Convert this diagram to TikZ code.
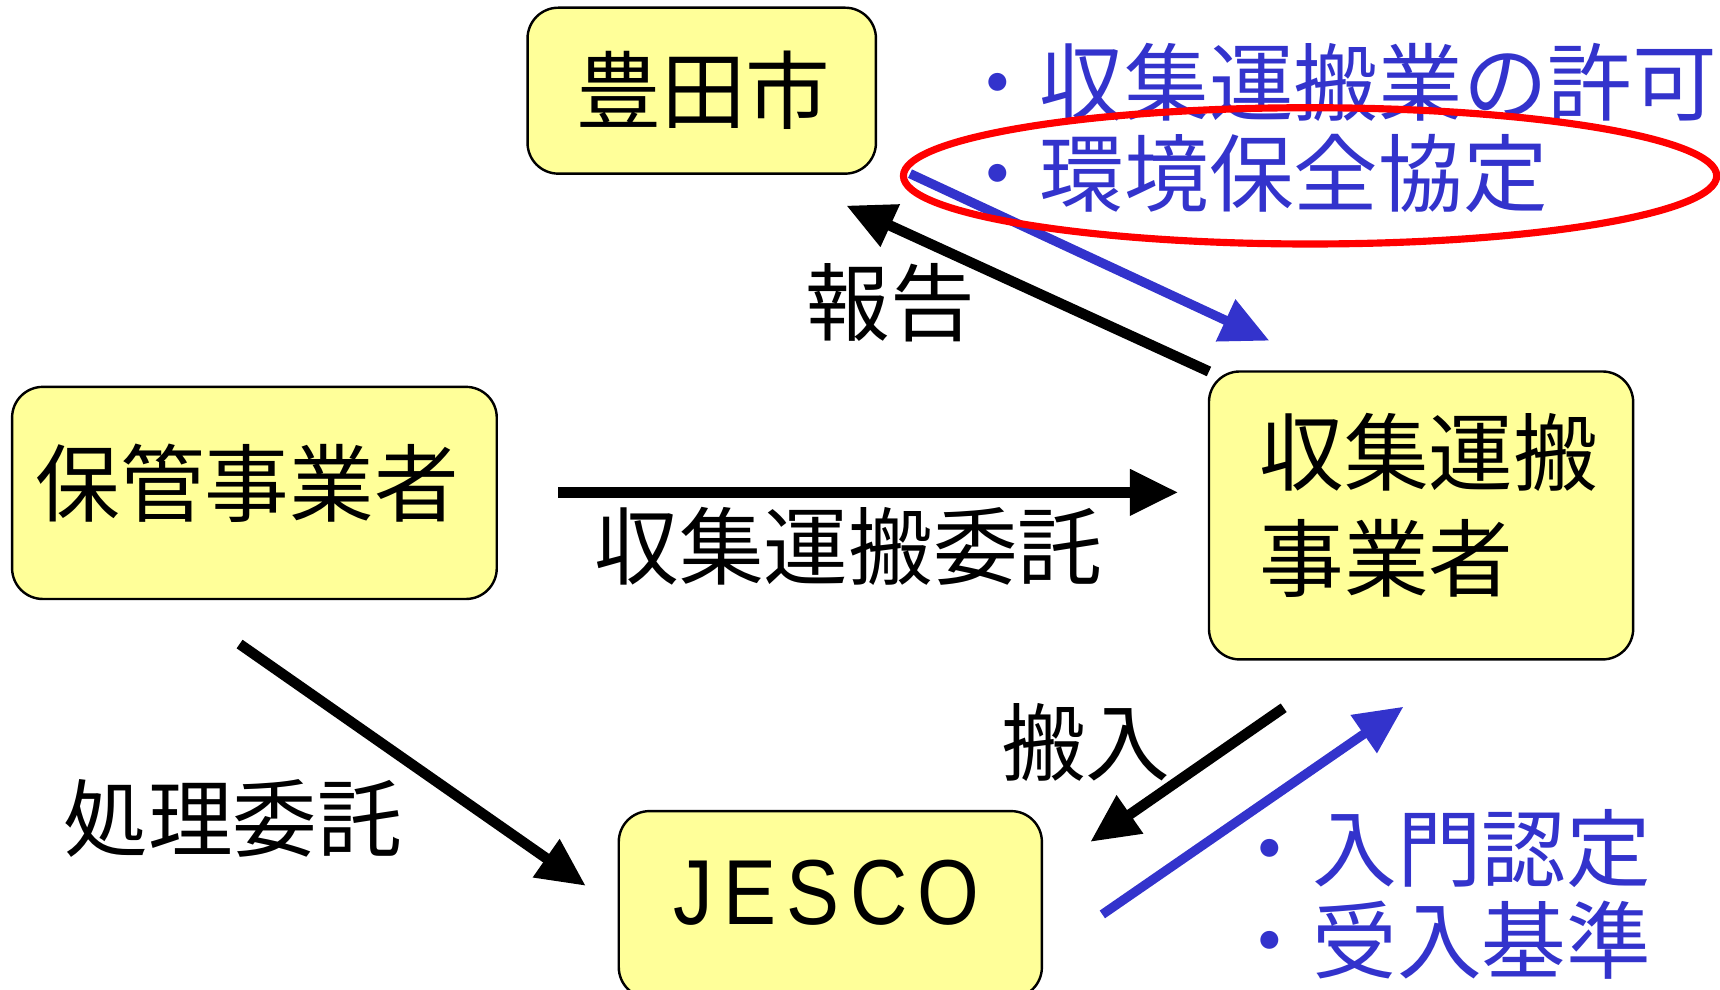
\documentclass[tikz,border=0pt]{standalone}
\usepackage{fontspec}
\newfontfamily\jp{Noto Sans CJK JP}
\newfontfamily\lat{Liberation Sans}
\usetikzlibrary{arrows.meta}
\definecolor{boxyellow}{HTML}{FFFF99}
\definecolor{arrowblue}{HTML}{3333CC}
\definecolor{ringred}{HTML}{FF0000}
\begin{document}
\begin{tikzpicture}[x=1pt,y=-1pt,
  box/.style={draw=black,line width=2.2pt,fill=boxyellow,rounded corners=28pt,inner sep=0pt},
  jptext/.style={font=\jp\fontsize{77}{96}\selectfont,inner sep=0pt},
  bluetext/.style={jptext,text=arrowblue,anchor=west},
  blk/.style={draw=black,line width=9.5pt,-{Triangle[length=44pt,width=40pt]}},
  blu/.style={draw=arrowblue,line width=8.5pt,-{Triangle[length=44pt,width=40pt]}},
]
\useasboundingbox (0,0) rectangle (1565,900);

% boxes
\node[box,minimum width=317pt,minimum height=151pt] (toyota) at (638.5,82.5) {};
\node[jptext] (toyotaT) at (640,82) {豊田市};
\node[box,minimum width=441pt,minimum height=193pt] (hokan) at (231.5,448.5) {};
\node[jptext] (hokanT) at (225,440) {保管事業者};
\node[box,minimum width=386pt,minimum height=262pt] (shushu) at (1293,469) {};
\node[jptext,align=left] (shushuT) at (1300,460) {収集運搬\\事業者};
\node[box,minimum width=385pt,minimum height=170pt] (jesco) at (755.5,823) {};
\node[font=\lat\fontsize{84}{90}\selectfont,inner sep=0pt,xscale=0.86] (jescoT) at (752,812) {J\kern11pt E\kern11pt S\kern11pt C\kern11pt O};

% arrow end points
\coordinate (hoS) at (1100,338);
\coordinate (hoE) at (770,187);
\coordinate (bl1S) at (828,158);
\coordinate (bl1E) at (1155,310);
\coordinate (itS) at (508,448);
\coordinate (itE) at (1072,448);
\coordinate (shS) at (218,586);
\coordinate (shE) at (533,806);
\coordinate (haS) at (1168,644);
\coordinate (haE) at (992,766);
\coordinate (bl2S) at (1003,832);
\coordinate (bl2E) at (1277,643);

% arrows
\draw[blk] (hoS) -- (hoE);
\draw[blu] (bl1S) -- (bl1E);
\draw[blk] (itS) -- (itE);
\draw[blk] (shS) -- (shE);
\draw[blk] (haS) -- (haE);
\draw[blu] (bl2S) -- (bl2E);

% labels
\node[jptext] (lblHo) at (810,275) {報告};
\node[jptext] (lblIt) at (772,497) {収集運搬委託};
\node[jptext] (lblSh) at (212,745) {処理委託};
\node[jptext] (lblHa) at (988,676) {搬入};

% blue notes
\node[bluetext] (n1) at (869,75) {・収集運搬業の許可};
\node[bluetext] (n2) at (869,158) {・環境保全協定};
\node[bluetext] (n3) at (1117,772) {・入門認定};
\node[bluetext] (n4) at (1117,855) {・受入基準};

% red ring
\draw[ringred,line width=6.5pt] (1192,160) ellipse [x radius=370pt,y radius=62pt];
\end{tikzpicture}
\end{document}
